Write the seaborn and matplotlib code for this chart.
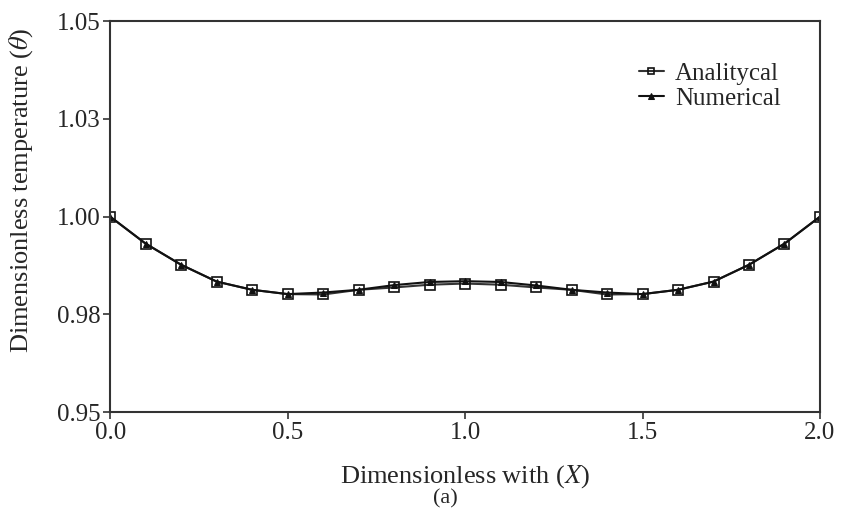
import pandas as pd
import matplotlib.pyplot as plt
import seaborn as sns

x_values = [0.0, 0.1, 0.2, 0.3, 0.4, 0.5, 0.6, 0.7, 0.8, 0.9, 1.0,
            1.1, 1.2, 1.3, 1.4, 1.5, 1.6, 1.7, 1.8, 1.9, 2.0]
analytical = [1.0000, 0.9931, 0.9877, 0.9834, 0.9813, 0.9802, 0.9801, 0.9813, 0.9819, 0.9826, 0.9829,
              0.9826, 0.9819, 0.9813, 0.9801, 0.9802, 0.9813, 0.9834, 0.9877, 0.9931, 1.0000]
numerical = [1.0000, 0.9931, 0.9877, 0.9834, 0.9813, 0.9802, 0.9806, 0.9813, 0.9825, 0.9833, 0.9835,
             0.9833, 0.9824, 0.9813, 0.9806, 0.9802, 0.9813, 0.9834, 0.9877, 0.9931, 1.0000]
y_ticks = [0.95, 0.975, 1.0, 1.025, 1.05]
y_tick_labels = ["0.95", "0.98", "1.00", "1.03", "1.05"]
x_ticks = [0.0, 0.5, 1.0, 1.5, 2.0]

df = pd.DataFrame({
    "X": x_values * 2,
    "theta": analytical + numerical,
    "Series": ["Analitycal"] * len(x_values) + ["Numerical"] * len(x_values),
})

sns.set_style("ticks")
plt.rcParams["font.family"] = ["Liberation Serif", "DejaVu Serif"]
plt.rcParams["mathtext.fontset"] = "stix"

fig = plt.figure(figsize=(8.41, 5.14), dpi=100)
ax = fig.add_axes([0.131, 0.198, 0.844, 0.761])

line_col = "#333333"
sns.lineplot(data=df, x="X", y="theta", hue="Series", style="Series",
             palette={"Analitycal": line_col, "Numerical": "#111111"},
             markers={"Analitycal": "s", "Numerical": "^"}, dashes=False,
             linewidth=1.5, markersize=6, ax=ax)

# open squares for analytical, filled triangles for numerical
for ln in ax.get_lines():
    if ln.get_marker() == "s":
        ln.set_markerfacecolor("none")
        ln.set_markeredgecolor("#111111")
        ln.set_markeredgewidth(1.2)
        ln.set_markersize(7)
    elif ln.get_marker() == "^":
        ln.set_markerfacecolor("#111111")
        ln.set_markeredgecolor("#111111")
        ln.set_markersize(5)

ax.set_xlim(0, 2.0)
ax.set_ylim(0.95, 1.05)
ax.set_xticks(x_ticks)
ax.set_xticklabels([f"{t:.1f}" for t in x_ticks])
ax.set_yticks(y_ticks)
ax.set_yticklabels(y_tick_labels)
ax.tick_params(axis="both", labelsize=18, length=5, width=1.2, color=line_col,
               direction="out", pad=2)

for sp in ax.spines.values():
    sp.set_linewidth(1.5)
    sp.set_color(line_col)

ax.set_xlabel("Dimensionless with ($X$)", fontsize=19, labelpad=14)
ax.set_ylabel(r"Dimensionless temperature ($\theta$)", fontsize=19)
ax.yaxis.set_label_coords(-0.106, 0.568)
fig.text(0.529, 0.02, "(a)", ha="center", fontsize=16)

leg = ax.legend(loc="upper right", bbox_to_anchor=(0.945, 0.895), frameon=False,
                fontsize=18, handlelength=1.0, handletextpad=0.45, labelspacing=0.1,
                borderaxespad=0, borderpad=0, title=None)
for h in leg.legend_handles:
    if h.get_marker() == "s":
        h.set_markerfacecolor("none")
        h.set_markeredgecolor("#111111")
        h.set_markersize(5)
    else:
        h.set_markersize(5)

fig.savefig("out.png", dpi=100)
